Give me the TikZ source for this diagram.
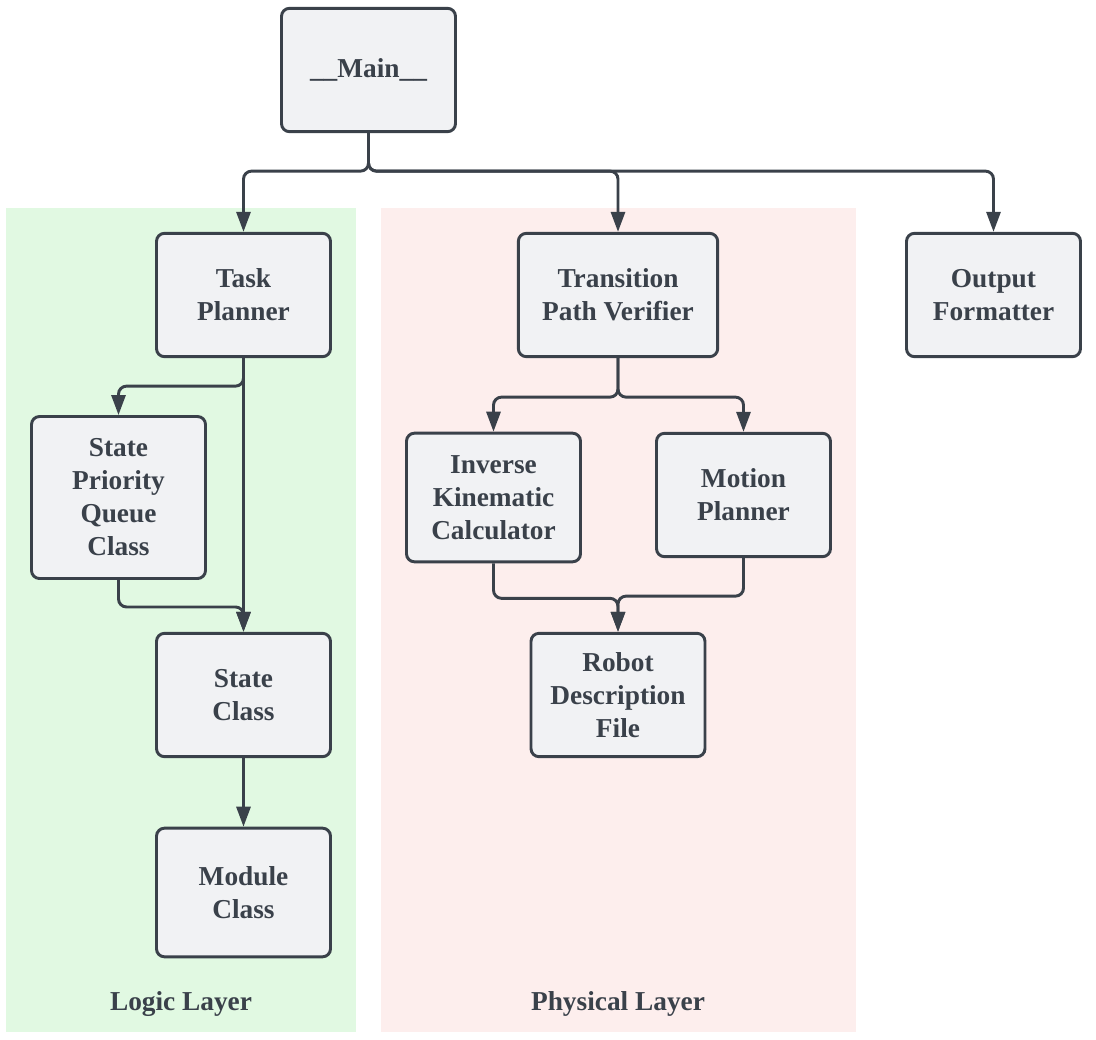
\documentclass[tikz,border=0pt]{standalone}
\usepackage{fontspec}
\setmainfont{Liberation Serif}
\usetikzlibrary{arrows.meta}
\definecolor{ink}{HTML}{3A414A}
\definecolor{boxfill}{HTML}{F1F2F4}
\definecolor{logicbg}{HTML}{E1F9E2}
\definecolor{physbg}{HTML}{FDEEED}

\begin{document}
\begin{tikzpicture}[x=0.75pt,y=-0.75pt]
        \useasboundingbox (0,0) rectangle (1096,1039);

        % layers
        \fill[logicbg] (6,208) rectangle (356,1032);
        \fill[physbg] (381,208) rectangle (856,1032);

        \begin{scope}[every node/.style={text=ink,font=\bfseries\fontsize{20.5}{24.75}\selectfont}]
            \node (logic) at (181,1004) {Logic Layer};
            \node (phys) at (618,1004) {Physical Layer};
        \end{scope}

        \begin{scope}[every node/.style={rectangle,rounded corners=6pt,draw=ink,line width=2.2pt,fill=boxfill,
                    minimum width=130.5pt,minimum height=92.5pt,align=center,text=ink,
                    font=\bfseries\fontsize{20.5}{24.75}\selectfont}]
            \node (main) at (368.5,70) {\_\_Main\_\_};
            \node (task) at (243.5,295) {Task\\Planner};
            \node[minimum width=149.5pt] (tpv) at (618,295) {Transition\\Path Verifier};
            \node (out) at (993.5,295) {Output\\Formatter};
            \node[minimum height=121.5pt] (spq) at (118.5,497.5) {State\\Priority\\Queue\\Class};
            \node (state) at (243.5,695) {State\\Class};
            \node[minimum height=96.5pt] (module) at (243.5,892.5) {Module\\Class};
            \node[minimum height=96.5pt] (ik) at (493.5,497.5) {Inverse\\Kinematic\\Calculator};
            \node (mp) at (743.5,495) {Motion\\Planner};
            \node (rdf) at (618,695) {Robot\\Description\\File};
        \end{scope}

        \begin{scope}[>={Triangle[length=15pt,width=10.5pt]},
                    every path/.style={draw=ink,line width=2.2pt,rounded corners=6pt}]
            \draw [->] (main.south) -- ++(0,38) -| (task.north);
            \draw [->] (main.south) -- ++(0,38) -| (tpv.north);
            \draw [->] (main.south) -- ++(0,38) -| (out.north);
            \draw [->] (task.south) -- ++(0,28) -| (spq.north);
            \draw [->] (task.south) -- (state.north);
            \draw [->] (spq.south) -- ++(0,27) -| (state.north);
            \draw [->] (state) -- (module);
            \draw [->] (tpv.south) -- ++(0,39) -| (ik.north);
            \draw [->] (tpv.south) -- ++(0,39) -| (mp.north);
            \draw [->] (ik.south) -- ++(0,35) -| (rdf.north);
            \draw [->] (mp.south) -- ++(0,38) -| (rdf.north);
        \end{scope}
    \end{tikzpicture}
\end{document}
